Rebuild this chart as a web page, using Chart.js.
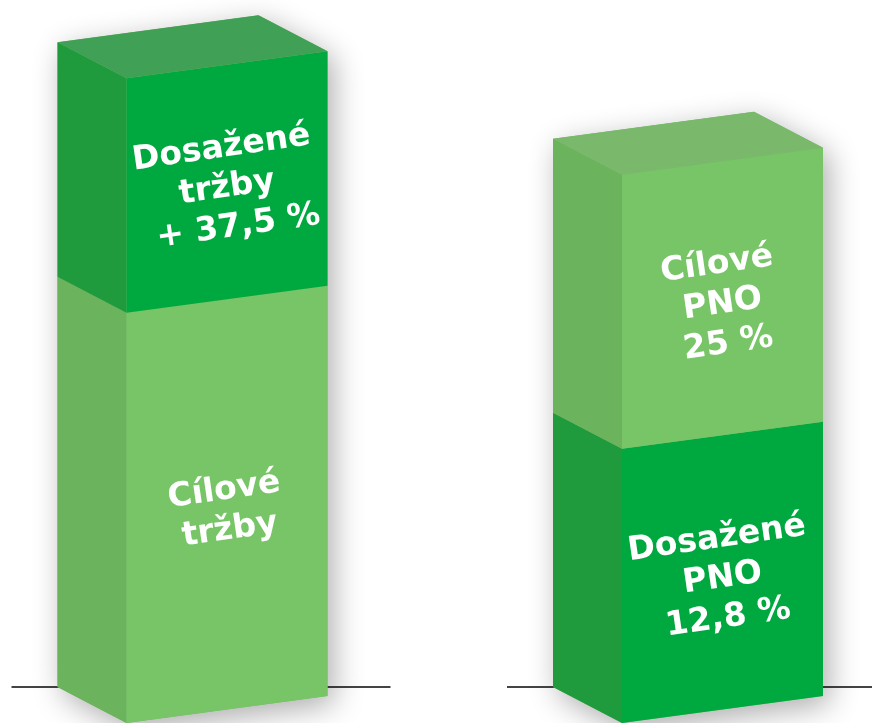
<!DOCTYPE html>
<html>
<head>
<meta charset="utf-8">
<script src="https://cdn.jsdelivr.net/npm/chart.js@4.4.1/dist/chart.umd.min.js"></script>
<style>
  html, body { margin: 0; padding: 0; background: #fff; }
</style>
</head>
<body>
<canvas id="boxChart" width="872" height="723"></canvas>
<script>
// Data (scale: right box total = 25)
const categories = ['tržby', 'PNO'];
const bottomValues = [18.7, 12.5];
const topValues = [10.7, 12.5];
const bottomLabels = [['Cílové', 'tržby'], ['Dosažené', 'PNO', '12,8 %']];
const topLabels = [['Dosažené', 'tržby', ' + 37,5 %'], ['Cílové', 'PNO', '25 %']];

// Colours of the faces: light / dark green
const LIGHT = { front: '#77c566', side: '#6cb35d', top: '#7ab96c' };
const DARK = { front: '#00a93f', side: '#1f9a3c', top: '#40a055' };

// Pseudo 3D geometry
const SKEW = 27;   // front face rises to the right
const DX = -69;    // depth offset of side face
const DY = -36;

const boxes3d = {
    id: 'boxes3d',
    beforeDatasetsDraw(chart) {
        const ctx = chart.ctx;
        const metas = chart.data.datasets.map((d, i) => chart.getDatasetMeta(i));
        const h = SKEW / 2;

        chart.data.labels.forEach((lab, j) => {
            const segs = metas.map(m => m.data[j]);
            const first = segs[0];
            const l = first.x - first.width / 2;
            const r = first.x + first.width / 2;
            const base = first.base;
            const top = segs[segs.length - 1].y;

            // ground line
            ctx.save();
            ctx.strokeStyle = '#444';
            ctx.lineWidth = 2;
            ctx.beginPath();
            ctx.moveTo(l + DX - 46, base + h + DY);
            ctx.lineTo(r + 63, base + h + DY);
            ctx.stroke();
            ctx.restore();

            // shadow of the whole box
            ctx.save();
            ctx.shadowColor = 'rgba(0,0,0,0.32)';
            ctx.shadowBlur = 30;
            ctx.shadowOffsetX = 6;
            ctx.shadowOffsetY = 8;
            ctx.fillStyle = '#7ab96c';
            ctx.beginPath();
            ctx.moveTo(l, base + h);
            ctx.lineTo(r, base - h);
            ctx.lineTo(r, top - h);
            ctx.lineTo(r + DX, top - h + DY);
            ctx.lineTo(l + DX, top + h + DY);
            ctx.lineTo(l + DX, base + h + DY);
            ctx.closePath();
            ctx.fill();
            ctx.restore();

            segs.forEach((seg, k) => {
                const ds = chart.data.datasets[k];
                const y0 = seg.y, y1 = seg.base;

                // side face
                ctx.fillStyle = ds.sideColor[j];
                ctx.beginPath();
                ctx.moveTo(l, y1 + h);
                ctx.lineTo(l, y0 + h);
                ctx.lineTo(l + DX, y0 + h + DY);
                ctx.lineTo(l + DX, y1 + h + DY);
                ctx.closePath();
                ctx.fill();

                // front face
                ctx.fillStyle = ds.backgroundColor[j];
                ctx.beginPath();
                ctx.moveTo(l, y1 + h);
                ctx.lineTo(r, y1 - h);
                ctx.lineTo(r, y0 - h);
                ctx.lineTo(l, y0 + h);
                ctx.closePath();
                ctx.fill();

                // top face on the last segment
                if (k === segs.length - 1) {
                    ctx.fillStyle = ds.topColor[j];
                    ctx.beginPath();
                    ctx.moveTo(l, y0 + h);
                    ctx.lineTo(r, y0 - h);
                    ctx.lineTo(r + DX, y0 - h + DY);
                    ctx.lineTo(l + DX, y0 + h + DY);
                    ctx.closePath();
                    ctx.fill();
                }

                // label text, tilted with the face
                const lines = ds.texts[j];
                ctx.save();
                ctx.translate(seg.x, (y0 + y1) / 2 + 6);
                ctx.rotate(Math.atan2(-SKEW - 2, seg.width));
                ctx.fillStyle = '#fff';
                ctx.font = 'bold 33px "DejaVu Sans"';
                ctx.textAlign = 'center';
                ctx.textBaseline = 'middle';
                const lh = 40;
                lines.forEach((t, i) => {
                    ctx.fillText(t, 0, (i - (lines.length - 1) / 2) * lh);
                });
                ctx.restore();
            });
        });
        return false;
    }
};

new Chart(document.getElementById('boxChart'), {
    type: 'bar',
    data: {
        labels: categories,
        datasets: [
            {
                label: 'bottom',
                data: bottomValues,
                backgroundColor: [LIGHT.front, DARK.front],
                sideColor: [LIGHT.side, DARK.side],
                topColor: [LIGHT.top, DARK.top],
                texts: bottomLabels,
                barThickness: 201
            },
            {
                label: 'top',
                data: topValues,
                backgroundColor: [DARK.front, LIGHT.front],
                sideColor: [DARK.side, LIGHT.side],
                topColor: [DARK.top, LIGHT.top],
                texts: topLabels,
                barThickness: 201
            }
        ]
    },
    options: {
        responsive: false,
        animation: false,
        layout: { padding: { left: 227, right: 149.5, top: 51.5, bottom: 13.5 } },
        scales: {
            x: { type: 'category', offset: false, stacked: true, display: false },
            y: { stacked: true, min: 0, max: 30, display: false }
        },
        plugins: {
            legend: { display: false },
            tooltip: { enabled: false }
        }
    },
    plugins: [boxes3d]
});
</script>
</body>
</html>
